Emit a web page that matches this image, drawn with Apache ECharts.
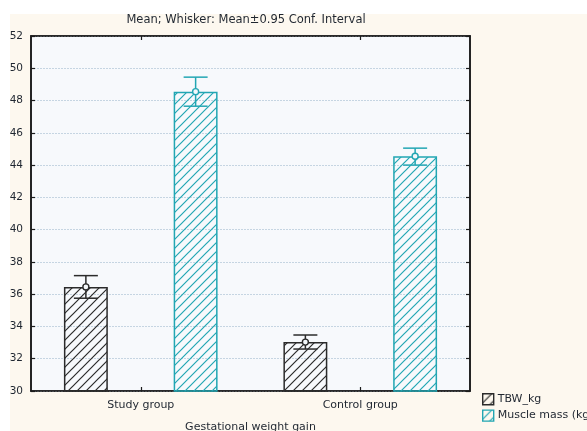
<!DOCTYPE html>
<html>
<head>
<meta charset="utf-8">
<script src="https://cdn.jsdelivr.net/npm/echarts@6/dist/echarts.min.js"></script>
<style>
  html, body { margin: 0; padding: 0; background: #ffffff; }
  #chart { width: 587px; height: 431px; }
</style>
</head>
<body>
<div id="chart"></div>
<script>
// Group means with their 95% confidence intervals
const categories = ['Study group', 'Control group'];
const seriesNames = ['TBW_kg', 'Muscle mass (kg)'];
const tbwMean = [36.45, 33.03];
const tbwLow = [35.75, 32.6];
const tbwHigh = [37.15, 33.47];
const muscleMean = [48.55, 44.55];
const muscleLow = [47.65, 44.0];
const muscleHigh = [49.45, 45.05];
const yTicks = { min: 30, max: 52, step: 2 };

const darkColor = '#2b2b2b';
const tealColor = '#22a6b3';
const textColor = '#1f2630';
const font = 'DejaVu Sans';

// Diagonal hatch tile
function hatch(color) {
  const s = 9;
  const c = document.createElement('canvas');
  c.width = s; c.height = s;
  const g = c.getContext('2d');
  g.strokeStyle = color;
  g.lineWidth = 1.2;
  g.beginPath();
  g.moveTo(-1, s + 1); g.lineTo(s + 1, -1);
  g.moveTo(-1, 1); g.lineTo(1, -1);
  g.moveTo(s - 1, s + 1); g.lineTo(s + 1, s - 1);
  g.stroke();
  return { image: c, repeat: 'repeat' };
}

function whiskers(lows, highs, means, color, side) {
  return {
    type: 'custom',
    z: 5,
    silent: true,
    data: categories.map((c, i) => [i, lows[i], highs[i], means[i]]),
    renderItem: function (params, api) {
      const i = api.value(0);
      const band = api.size([1, 0])[0];
      const off = (side === 0 ? -0.25 : 0.25) * band;
      const lo = api.coord([i, api.value(1)]);
      const hi = api.coord([i, api.value(2)]);
      const mid = api.coord([i, api.value(3)]);
      const x = lo[0] + off;
      const cap = 12;
      const st = { stroke: color, lineWidth: 1.5, fill: null };
      return {
        type: 'group',
        children: [
          { type: 'line', shape: { x1: x, y1: lo[1], x2: x, y2: hi[1] }, style: st },
          { type: 'line', shape: { x1: x - cap, y1: lo[1], x2: x + cap, y2: lo[1] }, style: st },
          { type: 'line', shape: { x1: x - cap, y1: hi[1], x2: x + cap, y2: hi[1] }, style: st },
          { type: 'circle', shape: { cx: x, cy: mid[1], r: 3 }, style: { stroke: color, lineWidth: 1.4, fill: '#f4f8fb' } }
        ]
      };
    }
  };
}

const chart = echarts.init(document.getElementById('chart'), null, { renderer: 'canvas' });

const axisLine = { show: true, lineStyle: { color: '#1c1c1c', width: 1.6 } };
const tickIn = { show: true, inside: true, length: 4, lineStyle: { color: '#1c1c1c', width: 1.2 } };

chart.setOption({
  backgroundColor: '#ffffff',
  animation: false,
  graphic: [
    { type: 'rect', z: -10, shape: { x: 10, y: 14, width: 577, height: 417 }, style: { fill: '#fdf8ef' } }
  ],
  title: {
    text: 'Mean; Whisker: Mean±0.95 Conf. Interval',
    left: 241, top: 9, textAlign: 'center',
    textStyle: { fontFamily: font, fontSize: 11.5, fontWeight: 'normal', color: textColor }
  },
  grid: {
    left: 31, right: 117, top: 36, bottom: 40,
    containLabel: false, outerBoundsMode: 'none',
    show: true, backgroundColor: '#f7f9fc', borderColor: '#1c1c1c', borderWidth: 1.6
  },
  legend: {
    orient: 'vertical', left: 477, top: 388,
    itemWidth: 11, itemHeight: 11, itemGap: 4,
    textStyle: { fontFamily: font, fontSize: 11, color: textColor, padding: [0, 0, 0, -1] },
    data: [
      { name: seriesNames[0], icon: 'rect', itemStyle: { borderColor: darkColor, borderWidth: 1.4 } },
      { name: seriesNames[1], icon: 'rect', itemStyle: { borderColor: tealColor, borderWidth: 1.4 } }
    ]
  },
  xAxis: [
    {
      type: 'category', data: categories, position: 'bottom',
      axisLine: axisLine, axisTick: Object.assign({ alignWithLabel: true }, tickIn),
      axisLabel: { fontFamily: font, fontSize: 11, color: textColor, margin: 9 },
      name: 'Gestational weight gain', nameLocation: 'middle', nameGap: 31,
      nameTextStyle: { fontFamily: font, fontSize: 11, color: textColor }
    },
    {
      type: 'category', data: categories, position: 'top',
      axisLine: axisLine, axisTick: Object.assign({ alignWithLabel: true }, tickIn),
      axisLabel: { show: false }
    }
  ],
  yAxis: [
    {
      type: 'value', min: yTicks.min, max: yTicks.max, interval: yTicks.step,
      axisLine: axisLine, axisTick: tickIn,
      axisLabel: { fontFamily: font, fontSize: 10.5, color: textColor, margin: 8 },
      splitLine: { show: true, lineStyle: { color: '#c6d5e2', type: [2, 1], width: 1 } }
    },
    {
      type: 'value', min: yTicks.min, max: yTicks.max, interval: yTicks.step, position: 'right',
      axisLine: axisLine, axisTick: tickIn, axisLabel: { show: false }, splitLine: { show: false }
    }
  ],
  series: [
    {
      name: seriesNames[0], type: 'bar', data: tbwMean,
      barCategoryGap: '30%', barGap: '150%',
      itemStyle: { color: hatch(darkColor), borderColor: darkColor, borderWidth: 1.5 }
    },
    {
      name: seriesNames[1], type: 'bar', data: muscleMean,
      barCategoryGap: '30%', barGap: '150%',
      itemStyle: { color: hatch(tealColor), borderColor: tealColor, borderWidth: 1.5 }
    },
    whiskers(tbwLow, tbwHigh, tbwMean, darkColor, 0),
    whiskers(muscleLow, muscleHigh, muscleMean, tealColor, 1)
  ]
});
</script>
</body>
</html>
